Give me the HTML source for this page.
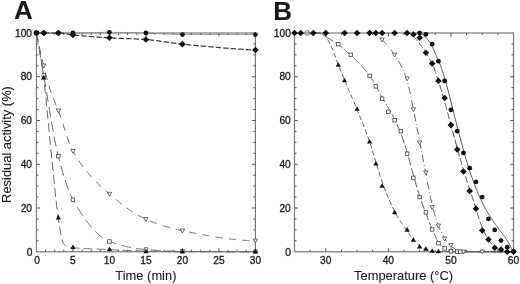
<!DOCTYPE html>
<html><head><meta charset="utf-8"><style>
html,body{margin:0;padding:0;background:#fff;}
body{width:520px;height:284px;overflow:hidden;}
svg{display:block;will-change:transform;}
text{font-family:"Liberation Sans",sans-serif;fill:#1a1a1a;stroke:#1a1a1a;stroke-width:0.3px;}
</style></head><body>
<svg width="520" height="284" viewBox="0 0 520 284">
<g style="filter:blur(0.25px)">
<rect x="36.45" y="33.0" width="218.95" height="218.75" fill="none" stroke="#7a7a7a" stroke-width="1.2"/>
<path d="M72.94,251.75v-3.5M72.94,33.0v3.5M109.43,251.75v-3.5M109.43,33.0v3.5M145.93,251.75v-3.5M145.93,33.0v3.5M182.42,251.75v-3.5M182.42,33.0v3.5M218.91,251.75v-3.5M218.91,33.0v3.5M45.57,251.75v-2M45.57,33.0v2M54.70,251.75v-2M54.70,33.0v2M63.82,251.75v-2M63.82,33.0v2M82.06,251.75v-2M82.06,33.0v2M91.19,251.75v-2M91.19,33.0v2M100.31,251.75v-2M100.31,33.0v2M118.56,251.75v-2M118.56,33.0v2M127.68,251.75v-2M127.68,33.0v2M136.80,251.75v-2M136.80,33.0v2M155.05,251.75v-2M155.05,33.0v2M164.17,251.75v-2M164.17,33.0v2M173.29,251.75v-2M173.29,33.0v2M191.54,251.75v-2M191.54,33.0v2M200.66,251.75v-2M200.66,33.0v2M209.79,251.75v-2M209.79,33.0v2M228.03,251.75v-2M228.03,33.0v2M237.15,251.75v-2M237.15,33.0v2M246.28,251.75v-2M246.28,33.0v2M36.45,208.00h3.5M255.4,208.00h-3.5M36.45,164.25h3.5M255.4,164.25h-3.5M36.45,120.50h3.5M255.4,120.50h-3.5M36.45,76.75h3.5M255.4,76.75h-3.5M36.45,240.81h2M255.4,240.81h-2M36.45,229.88h2M255.4,229.88h-2M36.45,218.94h2M255.4,218.94h-2M36.45,197.06h2M255.4,197.06h-2M36.45,186.12h2M255.4,186.12h-2M36.45,175.19h2M255.4,175.19h-2M36.45,153.31h2M255.4,153.31h-2M36.45,142.38h2M255.4,142.38h-2M36.45,131.44h2M255.4,131.44h-2M36.45,109.56h2M255.4,109.56h-2M36.45,98.62h2M255.4,98.62h-2M36.45,87.69h2M255.4,87.69h-2M36.45,65.81h2M255.4,65.81h-2M36.45,54.88h2M255.4,54.88h-2M36.45,43.94h2M255.4,43.94h-2" stroke="#555" stroke-width="1" fill="none"/>
<path d="M36.45,33.00L37.18,33.00L37.91,33.00L38.65,33.00L39.38,33.00L40.11,33.00L40.84,33.00L41.58,33.00L42.31,33.00L43.04,33.00L43.77,33.00L44.51,33.00L45.24,33.00L45.97,33.00L46.70,33.00L47.43,33.00L48.17,33.00L48.90,33.00L49.63,33.00L50.36,33.00L51.10,33.00L51.83,33.00L52.56,33.00L53.29,33.00L54.02,33.00L54.76,33.00L55.49,33.00L56.22,33.00L56.95,33.00L57.69,33.00L58.42,33.00L59.15,33.00L59.88,33.00L60.62,33.00L61.35,33.00L62.08,33.00L62.81,33.00L63.54,33.00L64.28,33.00L65.01,33.00L65.74,33.00L66.47,33.00L67.21,33.00L67.94,33.00L68.67,33.00L69.40,33.00L70.13,33.00L70.87,33.00L71.60,33.00L72.33,33.00L73.06,33.00L73.80,33.00L74.53,33.00L75.26,32.99L75.99,32.99L76.73,32.98L77.46,32.97L78.19,32.96L78.92,32.95L79.65,32.94L80.39,32.93L81.12,32.92L81.85,32.90L82.58,32.89L83.32,32.87L84.05,32.85L84.78,32.84L85.51,32.82L86.24,32.80L86.98,32.78L87.71,32.76L88.44,32.75L89.17,32.73L89.91,32.71L90.64,32.69L91.37,32.67L92.10,32.65L92.84,32.63L93.57,32.61L94.30,32.59L95.03,32.57L95.76,32.55L96.50,32.53L97.23,32.51L97.96,32.50L98.69,32.48L99.43,32.46L100.16,32.45L100.89,32.43L101.62,32.42L102.35,32.41L103.09,32.40L103.82,32.39L104.55,32.38L105.28,32.37L106.02,32.36L106.75,32.35L107.48,32.35L108.21,32.35L108.95,32.34L109.68,32.34L110.41,32.34L111.14,32.35L111.87,32.35L112.61,32.35L113.34,32.36L114.07,32.36L114.80,32.37L115.54,32.37L116.27,32.38L117.00,32.39L117.73,32.39L118.46,32.40L119.20,32.41L119.93,32.42L120.66,32.43L121.39,32.44L122.13,32.45L122.86,32.47L123.59,32.48L124.32,32.49L125.06,32.51L125.79,32.52L126.52,32.53L127.25,32.55L127.98,32.56L128.72,32.58L129.45,32.59L130.18,32.61L130.91,32.63L131.65,32.64L132.38,32.66L133.11,32.68L133.84,32.70L134.57,32.71L135.31,32.73L136.04,32.75L136.77,32.77L137.50,32.79L138.24,32.80L138.97,32.82L139.70,32.84L140.43,32.86L141.17,32.88L141.90,32.90L142.63,32.92L143.36,32.93L144.09,32.95L144.83,32.97L145.56,32.99L146.29,33.01L147.02,33.03L147.76,33.05L148.49,33.08L149.22,33.10L149.95,33.13L150.68,33.16L151.42,33.19L152.15,33.23L152.88,33.26L153.61,33.30L154.35,33.33L155.08,33.37L155.81,33.41L156.54,33.45L157.28,33.49L158.01,33.53L158.74,33.57L159.47,33.61L160.20,33.65L160.94,33.70L161.67,33.74L162.40,33.78L163.13,33.82L163.87,33.86L164.60,33.90L165.33,33.95L166.06,33.99L166.79,34.03L167.53,34.07L168.26,34.10L168.99,34.14L169.72,34.18L170.46,34.21L171.19,34.25L171.92,34.28L172.65,34.31L173.39,34.34L174.12,34.37L174.85,34.39L175.58,34.42L176.31,34.44L177.05,34.46L177.78,34.48L178.51,34.49L179.24,34.50L179.98,34.52L180.71,34.52L181.44,34.53L182.17,34.53L182.90,34.53L183.64,34.53L184.37,34.53L185.10,34.53L185.83,34.53L186.57,34.53L187.30,34.53L188.03,34.53L188.76,34.53L189.50,34.53L190.23,34.53L190.96,34.53L191.69,34.53L192.42,34.53L193.16,34.53L193.89,34.53L194.62,34.53L195.35,34.53L196.09,34.53L196.82,34.53L197.55,34.53L198.28,34.53L199.01,34.53L199.75,34.53L200.48,34.53L201.21,34.53L201.94,34.53L202.68,34.53L203.41,34.53L204.14,34.53L204.87,34.53L205.61,34.53L206.34,34.53L207.07,34.53L207.80,34.53L208.53,34.53L209.27,34.53L210.00,34.53L210.73,34.53L211.46,34.53L212.20,34.53L212.93,34.53L213.66,34.53L214.39,34.53L215.12,34.53L215.86,34.53L216.59,34.53L217.32,34.53L218.05,34.53L218.79,34.53L219.52,34.53L220.25,34.53L220.98,34.53L221.72,34.53L222.45,34.53L223.18,34.53L223.91,34.53L224.64,34.53L225.38,34.53L226.11,34.53L226.84,34.53L227.57,34.53L228.31,34.53L229.04,34.53L229.77,34.53L230.50,34.53L231.23,34.53L231.97,34.53L232.70,34.53L233.43,34.53L234.16,34.53L234.90,34.53L235.63,34.53L236.36,34.53L237.09,34.53L237.83,34.53L238.56,34.53L239.29,34.53L240.02,34.53L240.75,34.53L241.49,34.53L242.22,34.53L242.95,34.53L243.68,34.53L244.42,34.53L245.15,34.53L245.88,34.53L246.61,34.53L247.34,34.53L248.08,34.53L248.81,34.53L249.54,34.53L250.27,34.53L251.01,34.53L251.74,34.53L252.47,34.53L253.20,34.53L253.94,34.53L254.67,34.53L255.40,34.53" fill="none" stroke="#8a8a8a" stroke-width="1.0"/>
<path d="M36.45,33.00L37.18,33.00L37.91,33.00L38.65,33.00L39.38,33.00L40.11,33.00L40.84,33.00L41.58,33.00L42.31,33.00L43.04,33.00L43.77,33.00L44.51,33.00L45.24,33.00L45.97,33.00L46.70,33.00L47.43,33.00L48.17,33.00L48.90,33.00L49.63,33.00L50.36,33.00L51.10,33.00L51.83,33.00L52.56,33.00L53.29,33.00L54.02,33.00L54.76,33.00L55.49,33.00L56.22,33.00L56.95,33.00L57.69,33.00L58.42,33.00L59.15,33.01L59.88,33.05L60.62,33.10L61.35,33.17L62.08,33.25L62.81,33.34L63.54,33.45L64.28,33.56L65.01,33.69L65.74,33.81L66.47,33.95L67.21,34.08L67.94,34.21L68.67,34.34L69.40,34.47L70.13,34.59L70.87,34.70L71.60,34.81L72.33,34.90L73.06,34.98L73.80,35.06L74.53,35.13L75.26,35.20L75.99,35.27L76.73,35.35L77.46,35.42L78.19,35.49L78.92,35.55L79.65,35.62L80.39,35.69L81.12,35.75L81.85,35.82L82.58,35.88L83.32,35.95L84.05,36.01L84.78,36.07L85.51,36.13L86.24,36.20L86.98,36.26L87.71,36.32L88.44,36.37L89.17,36.43L89.91,36.49L90.64,36.55L91.37,36.60L92.10,36.66L92.84,36.71L93.57,36.77L94.30,36.82L95.03,36.87L95.76,36.93L96.50,36.98L97.23,37.03L97.96,37.08L98.69,37.13L99.43,37.18L100.16,37.23L100.89,37.28L101.62,37.33L102.35,37.37L103.09,37.42L103.82,37.47L104.55,37.51L105.28,37.56L106.02,37.61L106.75,37.65L107.48,37.70L108.21,37.74L108.95,37.78L109.68,37.83L110.41,37.87L111.14,37.91L111.87,37.95L112.61,37.99L113.34,38.03L114.07,38.06L114.80,38.10L115.54,38.14L116.27,38.17L117.00,38.20L117.73,38.24L118.46,38.27L119.20,38.30L119.93,38.33L120.66,38.36L121.39,38.39L122.13,38.42L122.86,38.45L123.59,38.48L124.32,38.51L125.06,38.54L125.79,38.57L126.52,38.60L127.25,38.62L127.98,38.65L128.72,38.68L129.45,38.71L130.18,38.74L130.91,38.77L131.65,38.80L132.38,38.83L133.11,38.87L133.84,38.90L134.57,38.93L135.31,38.96L136.04,39.00L136.77,39.03L137.50,39.07L138.24,39.11L138.97,39.14L139.70,39.18L140.43,39.22L141.17,39.26L141.90,39.31L142.63,39.35L143.36,39.39L144.09,39.44L144.83,39.49L145.56,39.54L146.29,39.59L147.02,39.64L147.76,39.70L148.49,39.76L149.22,39.83L149.95,39.90L150.68,39.97L151.42,40.05L152.15,40.13L152.88,40.21L153.61,40.29L154.35,40.38L155.08,40.47L155.81,40.56L156.54,40.65L157.28,40.75L158.01,40.85L158.74,40.94L159.47,41.04L160.20,41.15L160.94,41.25L161.67,41.35L162.40,41.46L163.13,41.56L163.87,41.67L164.60,41.78L165.33,41.89L166.06,41.99L166.79,42.10L167.53,42.21L168.26,42.32L168.99,42.42L169.72,42.53L170.46,42.64L171.19,42.74L171.92,42.85L172.65,42.95L173.39,43.05L174.12,43.15L174.85,43.25L175.58,43.35L176.31,43.45L177.05,43.54L177.78,43.63L178.51,43.72L179.24,43.81L179.98,43.89L180.71,43.98L181.44,44.05L182.17,44.13L182.90,44.21L183.64,44.28L184.37,44.35L185.10,44.43L185.83,44.50L186.57,44.57L187.30,44.65L188.03,44.72L188.76,44.79L189.50,44.86L190.23,44.94L190.96,45.01L191.69,45.08L192.42,45.15L193.16,45.22L193.89,45.29L194.62,45.36L195.35,45.44L196.09,45.51L196.82,45.58L197.55,45.65L198.28,45.72L199.01,45.79L199.75,45.85L200.48,45.92L201.21,45.99L201.94,46.06L202.68,46.13L203.41,46.20L204.14,46.27L204.87,46.33L205.61,46.40L206.34,46.47L207.07,46.53L207.80,46.60L208.53,46.67L209.27,46.73L210.00,46.80L210.73,46.86L211.46,46.93L212.20,46.99L212.93,47.05L213.66,47.12L214.39,47.18L215.12,47.25L215.86,47.31L216.59,47.37L217.32,47.43L218.05,47.49L218.79,47.56L219.52,47.62L220.25,47.68L220.98,47.74L221.72,47.80L222.45,47.86L223.18,47.92L223.91,47.97L224.64,48.03L225.38,48.09L226.11,48.15L226.84,48.20L227.57,48.26L228.31,48.32L229.04,48.37L229.77,48.43L230.50,48.48L231.23,48.54L231.97,48.59L232.70,48.65L233.43,48.70L234.16,48.75L234.90,48.80L235.63,48.86L236.36,48.91L237.09,48.96L237.83,49.01L238.56,49.06L239.29,49.11L240.02,49.16L240.75,49.20L241.49,49.25L242.22,49.30L242.95,49.35L243.68,49.39L244.42,49.44L245.15,49.48L245.88,49.53L246.61,49.57L247.34,49.62L248.08,49.66L248.81,49.70L249.54,49.75L250.27,49.79L251.01,49.83L251.74,49.87L252.47,49.91L253.20,49.95L253.94,49.99L254.67,50.02L255.40,50.06" fill="none" stroke="#3a3a3a" stroke-width="1.2" stroke-dasharray="5.5,2"/>
<path d="M36.45,33.00L37.18,36.57L37.91,40.09L38.65,43.54L39.38,46.94L40.11,50.27L40.84,53.53L41.58,56.73L42.31,59.86L43.04,62.92L43.77,65.91L44.51,68.86L45.24,71.78L45.97,74.67L46.70,77.50L47.43,80.27L48.17,82.96L48.90,85.56L49.63,88.05L50.36,90.41L51.10,92.64L51.83,94.73L52.56,96.69L53.29,98.54L54.02,100.32L54.76,102.04L55.49,103.75L56.22,105.45L56.95,107.19L57.69,108.98L58.42,110.85L59.15,112.81L59.88,114.86L60.62,116.99L61.35,119.17L62.08,121.39L62.81,123.65L63.54,125.93L64.28,128.21L65.01,130.49L65.74,132.75L66.47,134.97L67.21,137.15L67.94,139.27L68.67,141.32L69.40,143.28L70.13,145.14L70.87,146.89L71.60,148.51L72.33,150.00L73.06,151.34L73.80,152.60L74.53,153.85L75.26,155.06L75.99,156.26L76.73,157.43L77.46,158.58L78.19,159.71L78.92,160.81L79.65,161.90L80.39,162.96L81.12,164.01L81.85,165.03L82.58,166.04L83.32,167.02L84.05,167.99L84.78,168.94L85.51,169.88L86.24,170.80L86.98,171.70L87.71,172.58L88.44,173.45L89.17,174.31L89.91,175.15L90.64,175.98L91.37,176.79L92.10,177.59L92.84,178.38L93.57,179.16L94.30,179.92L95.03,180.68L95.76,181.42L96.50,182.16L97.23,182.88L97.96,183.60L98.69,184.30L99.43,185.00L100.16,185.70L100.89,186.38L101.62,187.06L102.35,187.73L103.09,188.39L103.82,189.06L104.55,189.71L105.28,190.36L106.02,191.01L106.75,191.66L107.48,192.30L108.21,192.94L108.95,193.58L109.68,194.21L110.41,194.85L111.14,195.48L111.87,196.10L112.61,196.73L113.34,197.35L114.07,197.96L114.80,198.57L115.54,199.18L116.27,199.79L117.00,200.39L117.73,200.98L118.46,201.57L119.20,202.16L119.93,202.74L120.66,203.32L121.39,203.89L122.13,204.45L122.86,205.01L123.59,205.57L124.32,206.12L125.06,206.66L125.79,207.20L126.52,207.73L127.25,208.25L127.98,208.77L128.72,209.29L129.45,209.79L130.18,210.29L130.91,210.78L131.65,211.27L132.38,211.75L133.11,212.22L133.84,212.68L134.57,213.14L135.31,213.59L136.04,214.03L136.77,214.46L137.50,214.89L138.24,215.30L138.97,215.71L139.70,216.11L140.43,216.50L141.17,216.89L141.90,217.26L142.63,217.63L143.36,217.98L144.09,218.33L144.83,218.67L145.56,219.00L146.29,219.32L147.02,219.63L147.76,219.94L148.49,220.25L149.22,220.55L149.95,220.86L150.68,221.15L151.42,221.45L152.15,221.74L152.88,222.03L153.61,222.31L154.35,222.59L155.08,222.87L155.81,223.14L156.54,223.41L157.28,223.68L158.01,223.94L158.74,224.20L159.47,224.46L160.20,224.71L160.94,224.96L161.67,225.21L162.40,225.45L163.13,225.69L163.87,225.92L164.60,226.15L165.33,226.38L166.06,226.61L166.79,226.83L167.53,227.05L168.26,227.26L168.99,227.48L169.72,227.68L170.46,227.89L171.19,228.09L171.92,228.29L172.65,228.48L173.39,228.67L174.12,228.86L174.85,229.05L175.58,229.23L176.31,229.40L177.05,229.58L177.78,229.75L178.51,229.92L179.24,230.08L179.98,230.24L180.71,230.40L181.44,230.55L182.17,230.70L182.90,230.85L183.64,231.00L184.37,231.14L185.10,231.29L185.83,231.44L186.57,231.58L187.30,231.73L188.03,231.87L188.76,232.02L189.50,232.17L190.23,232.31L190.96,232.45L191.69,232.60L192.42,232.74L193.16,232.89L193.89,233.03L194.62,233.17L195.35,233.31L196.09,233.46L196.82,233.60L197.55,233.74L198.28,233.88L199.01,234.01L199.75,234.15L200.48,234.29L201.21,234.43L201.94,234.56L202.68,234.70L203.41,234.83L204.14,234.97L204.87,235.10L205.61,235.23L206.34,235.36L207.07,235.49L207.80,235.62L208.53,235.75L209.27,235.88L210.00,236.01L210.73,236.13L211.46,236.25L212.20,236.38L212.93,236.50L213.66,236.62L214.39,236.74L215.12,236.86L215.86,236.98L216.59,237.09L217.32,237.21L218.05,237.32L218.79,237.43L219.52,237.54L220.25,237.65L220.98,237.76L221.72,237.87L222.45,237.97L223.18,238.08L223.91,238.18L224.64,238.28L225.38,238.38L226.11,238.48L226.84,238.57L227.57,238.67L228.31,238.76L229.04,238.85L229.77,238.94L230.50,239.03L231.23,239.12L231.97,239.20L232.70,239.28L233.43,239.36L234.16,239.44L234.90,239.52L235.63,239.59L236.36,239.67L237.09,239.74L237.83,239.81L238.56,239.87L239.29,239.94L240.02,240.00L240.75,240.06L241.49,240.12L242.22,240.18L242.95,240.23L243.68,240.29L244.42,240.34L245.15,240.39L245.88,240.43L246.61,240.47L247.34,240.52L248.08,240.56L248.81,240.59L249.54,240.63L250.27,240.66L251.01,240.69L251.74,240.71L252.47,240.74L253.20,240.76L253.94,240.78L254.67,240.80L255.40,240.81" fill="none" stroke="#666" stroke-width="1.0" stroke-dasharray="7.5,6"/>
<path d="M36.45,33.00L37.18,37.32L37.91,41.64L38.65,45.94L39.38,50.22L40.11,54.50L40.84,58.75L41.58,62.99L42.31,67.21L43.04,71.40L43.77,75.58L44.51,79.79L45.24,84.08L45.97,88.44L46.70,92.85L47.43,97.29L48.17,101.74L48.90,106.20L49.63,110.63L50.36,115.04L51.10,119.39L51.83,123.67L52.56,127.87L53.29,131.97L54.02,135.95L54.76,139.79L55.49,143.49L56.22,147.02L56.95,150.37L57.69,153.51L58.42,156.44L59.15,159.25L59.88,162.02L60.62,164.73L61.35,167.40L62.08,170.00L62.81,172.55L63.54,175.03L64.28,177.45L65.01,179.80L65.74,182.07L66.47,184.26L67.21,186.37L67.94,188.40L68.67,190.34L69.40,192.18L70.13,193.93L70.87,195.58L71.60,197.13L72.33,198.57L73.06,199.90L73.80,201.19L74.53,202.46L75.26,203.71L75.99,204.96L76.73,206.18L77.46,207.39L78.19,208.59L78.92,209.77L79.65,210.93L80.39,212.08L81.12,213.21L81.85,214.33L82.58,215.42L83.32,216.50L84.05,217.57L84.78,218.61L85.51,219.64L86.24,220.64L86.98,221.63L87.71,222.60L88.44,223.55L89.17,224.48L89.91,225.40L90.64,226.29L91.37,227.16L92.10,228.01L92.84,228.84L93.57,229.65L94.30,230.44L95.03,231.20L95.76,231.95L96.50,232.67L97.23,233.37L97.96,234.04L98.69,234.70L99.43,235.33L100.16,235.93L100.89,236.52L101.62,237.07L102.35,237.61L103.09,238.12L103.82,238.60L104.55,239.06L105.28,239.50L106.02,239.91L106.75,240.29L107.48,240.65L108.21,240.98L108.95,241.28L109.68,241.56L110.41,241.83L111.14,242.09L111.87,242.35L112.61,242.60L113.34,242.85L114.07,243.10L114.80,243.34L115.54,243.58L116.27,243.81L117.00,244.04L117.73,244.26L118.46,244.48L119.20,244.69L119.93,244.90L120.66,245.11L121.39,245.31L122.13,245.50L122.86,245.70L123.59,245.88L124.32,246.07L125.06,246.25L125.79,246.42L126.52,246.59L127.25,246.76L127.98,246.92L128.72,247.07L129.45,247.23L130.18,247.38L130.91,247.52L131.65,247.66L132.38,247.80L133.11,247.93L133.84,248.06L134.57,248.18L135.31,248.30L136.04,248.41L136.77,248.52L137.50,248.63L138.24,248.73L138.97,248.83L139.70,248.93L140.43,249.02L141.17,249.10L141.90,249.18L142.63,249.26L143.36,249.34L144.09,249.41L144.83,249.47L145.56,249.53L146.29,249.59L147.02,249.65L147.76,249.70L148.49,249.76L149.22,249.81L149.95,249.87L150.68,249.92L151.42,249.97L152.15,250.03L152.88,250.08L153.61,250.13L154.35,250.17L155.08,250.22L155.81,250.27L156.54,250.32L157.28,250.36L158.01,250.41L158.74,250.45L159.47,250.49L160.20,250.53L160.94,250.58L161.67,250.61L162.40,250.65L163.13,250.69L163.87,250.73L164.60,250.76L165.33,250.80L166.06,250.83L166.79,250.87L167.53,250.90L168.26,250.93L168.99,250.96L169.72,250.99L170.46,251.02L171.19,251.04L171.92,251.07L172.65,251.09L173.39,251.12L174.12,251.14L174.85,251.16L175.58,251.18L176.31,251.20L177.05,251.22L177.78,251.23L178.51,251.25L179.24,251.26L179.98,251.28L180.71,251.29L181.44,251.30L182.17,251.31L182.90,251.32L183.64,251.33L184.37,251.33L185.10,251.34L185.83,251.35L186.57,251.36L187.30,251.37L188.03,251.38L188.76,251.38L189.50,251.39L190.23,251.40L190.96,251.41L191.69,251.41L192.42,251.42L193.16,251.43L193.89,251.44L194.62,251.44L195.35,251.45L196.09,251.46L196.82,251.47L197.55,251.47L198.28,251.48L199.01,251.49L199.75,251.49L200.48,251.50L201.21,251.51L201.94,251.51L202.68,251.52L203.41,251.52L204.14,251.53L204.87,251.54L205.61,251.54L206.34,251.55L207.07,251.55L207.80,251.56L208.53,251.57L209.27,251.57L210.00,251.58L210.73,251.58L211.46,251.59L212.20,251.59L212.93,251.60L213.66,251.60L214.39,251.61L215.12,251.61L215.86,251.62L216.59,251.62L217.32,251.63L218.05,251.63L218.79,251.64L219.52,251.64L220.25,251.65L220.98,251.65L221.72,251.65L222.45,251.66L223.18,251.66L223.91,251.67L224.64,251.67L225.38,251.67L226.11,251.68L226.84,251.68L227.57,251.68L228.31,251.69L229.04,251.69L229.77,251.69L230.50,251.70L231.23,251.70L231.97,251.70L232.70,251.71L233.43,251.71L234.16,251.71L234.90,251.71L235.63,251.72L236.36,251.72L237.09,251.72L237.83,251.72L238.56,251.73L239.29,251.73L240.02,251.73L240.75,251.73L241.49,251.73L242.22,251.74L242.95,251.74L243.68,251.74L244.42,251.74L245.15,251.74L245.88,251.74L246.61,251.74L247.34,251.74L248.08,251.75L248.81,251.75L249.54,251.75L250.27,251.75L251.01,251.75L251.74,251.75L252.47,251.75L253.20,251.75L253.94,251.75L254.67,251.75L255.40,251.75" fill="none" stroke="#666" stroke-width="1.0" stroke-dasharray="10,5"/>
<path d="M36.45,33.00L37.18,36.45L37.91,40.21L38.65,44.25L39.38,48.56L40.11,53.13L40.84,57.93L41.58,62.95L42.31,68.16L43.04,73.56L43.77,79.13L44.51,85.11L45.24,91.68L45.97,98.71L46.70,106.10L47.43,113.74L48.17,121.50L48.90,129.28L49.63,136.96L50.36,144.44L51.10,151.59L51.83,158.71L52.56,166.00L53.29,173.36L54.02,180.70L54.76,187.92L55.49,194.92L56.22,201.60L56.95,207.87L57.69,213.62L58.42,218.77L59.15,223.73L59.88,228.62L60.62,233.18L61.35,237.12L62.08,240.17L62.81,242.07L63.54,243.36L64.28,244.48L65.01,245.42L65.74,246.16L66.47,246.68L67.21,246.97L67.94,247.15L68.67,247.30L69.40,247.42L70.13,247.53L70.87,247.62L71.60,247.69L72.33,247.76L73.06,247.82L73.80,247.88L74.53,247.94L75.26,248.00L75.99,248.05L76.73,248.10L77.46,248.15L78.19,248.20L78.92,248.25L79.65,248.29L80.39,248.34L81.12,248.38L81.85,248.42L82.58,248.46L83.32,248.50L84.05,248.54L84.78,248.58L85.51,248.61L86.24,248.65L86.98,248.68L87.71,248.72L88.44,248.75L89.17,248.78L89.91,248.81L90.64,248.84L91.37,248.87L92.10,248.90L92.84,248.93L93.57,248.95L94.30,248.98L95.03,249.01L95.76,249.04L96.50,249.06L97.23,249.09L97.96,249.12L98.69,249.14L99.43,249.17L100.16,249.20L100.89,249.22L101.62,249.25L102.35,249.28L103.09,249.30L103.82,249.33L104.55,249.36L105.28,249.39L106.02,249.42L106.75,249.45L107.48,249.48L108.21,249.51L108.95,249.54L109.68,249.57L110.41,249.61L111.14,249.64L111.87,249.67L112.61,249.71L113.34,249.74L114.07,249.78L114.80,249.81L115.54,249.84L116.27,249.88L117.00,249.91L117.73,249.95L118.46,249.98L119.20,250.02L119.93,250.05L120.66,250.09L121.39,250.12L122.13,250.16L122.86,250.19L123.59,250.23L124.32,250.26L125.06,250.30L125.79,250.33L126.52,250.36L127.25,250.40L127.98,250.43L128.72,250.46L129.45,250.50L130.18,250.53L130.91,250.56L131.65,250.59L132.38,250.62L133.11,250.65L133.84,250.68L134.57,250.71L135.31,250.74L136.04,250.77L136.77,250.80L137.50,250.83L138.24,250.86L138.97,250.88L139.70,250.91L140.43,250.93L141.17,250.96L141.90,250.98L142.63,251.00L143.36,251.02L144.09,251.04L144.83,251.07L145.56,251.08L146.29,251.10L147.02,251.12L147.76,251.14L148.49,251.16L149.22,251.18L149.95,251.20L150.68,251.21L151.42,251.23L152.15,251.25L152.88,251.27L153.61,251.29L154.35,251.31L155.08,251.33L155.81,251.34L156.54,251.36L157.28,251.38L158.01,251.40L158.74,251.42L159.47,251.43L160.20,251.45L160.94,251.47L161.67,251.48L162.40,251.50L163.13,251.51L163.87,251.53L164.60,251.55L165.33,251.56L166.06,251.57L166.79,251.59L167.53,251.60L168.26,251.61L168.99,251.63L169.72,251.64L170.46,251.65L171.19,251.66L171.92,251.67L172.65,251.68L173.39,251.69L174.12,251.70L174.85,251.71L175.58,251.72L176.31,251.72L177.05,251.73L177.78,251.73L178.51,251.74L179.24,251.74L179.98,251.75L180.71,251.75L181.44,251.75L182.17,251.75L182.90,251.75L183.64,251.75L184.37,251.75L185.10,251.75L185.83,251.75L186.57,251.75L187.30,251.75L188.03,251.75L188.76,251.75L189.50,251.75L190.23,251.75L190.96,251.75L191.69,251.75L192.42,251.75L193.16,251.75L193.89,251.75L194.62,251.75L195.35,251.75L196.09,251.75L196.82,251.75L197.55,251.75L198.28,251.75L199.01,251.75L199.75,251.75L200.48,251.75L201.21,251.75L201.94,251.75L202.68,251.75L203.41,251.75L204.14,251.75L204.87,251.75L205.61,251.75L206.34,251.75L207.07,251.75L207.80,251.75L208.53,251.75L209.27,251.75L210.00,251.75L210.73,251.75L211.46,251.75L212.20,251.75L212.93,251.75L213.66,251.75L214.39,251.75L215.12,251.75L215.86,251.75L216.59,251.75L217.32,251.75L218.05,251.75L218.79,251.75L219.52,251.75L220.25,251.75L220.98,251.75L221.72,251.75L222.45,251.75L223.18,251.75L223.91,251.75L224.64,251.75L225.38,251.75L226.11,251.75L226.84,251.75L227.57,251.75L228.31,251.75L229.04,251.75L229.77,251.75L230.50,251.75L231.23,251.75L231.97,251.75L232.70,251.75L233.43,251.75L234.16,251.75L234.90,251.75L235.63,251.75L236.36,251.75L237.09,251.75L237.83,251.75L238.56,251.75L239.29,251.75L240.02,251.75L240.75,251.75L241.49,251.75L242.22,251.75L242.95,251.75L243.68,251.75L244.42,251.75L245.15,251.75L245.88,251.75L246.61,251.75L247.34,251.75L248.08,251.75L248.81,251.75L249.54,251.75L250.27,251.75L251.01,251.75L251.74,251.75L252.47,251.75L253.20,251.75L253.94,251.75L254.67,251.75L255.40,251.75" fill="none" stroke="#666" stroke-width="1.0" stroke-dasharray="9,4"/>
<path d="M36.45,35.15L38.60,31.28L34.30,31.28Z" fill="#fff" stroke="#444" stroke-width="0.8"/>
<path d="M43.75,67.96L45.90,64.09L41.60,64.09Z" fill="#fff" stroke="#444" stroke-width="0.8"/>
<path d="M58.34,112.81L60.49,108.94L56.20,108.94Z" fill="#fff" stroke="#444" stroke-width="0.8"/>
<path d="M72.94,153.28L75.09,149.41L70.79,149.41Z" fill="#fff" stroke="#444" stroke-width="0.8"/>
<path d="M109.43,196.15L111.58,192.28L107.28,192.28Z" fill="#fff" stroke="#444" stroke-width="0.8"/>
<path d="M145.93,221.31L148.08,217.44L143.78,217.44Z" fill="#fff" stroke="#444" stroke-width="0.8"/>
<path d="M182.42,232.90L184.57,229.03L180.27,229.03Z" fill="#fff" stroke="#444" stroke-width="0.8"/>
<path d="M255.40,242.96L257.55,239.09L253.25,239.09Z" fill="#fff" stroke="#444" stroke-width="0.8"/>
<rect x="34.70" y="31.25" width="3.50" height="3.50" fill="#fff" stroke="#444" stroke-width="0.8"/>
<rect x="42.00" y="73.69" width="3.50" height="3.50" fill="#fff" stroke="#444" stroke-width="0.8"/>
<rect x="56.59" y="154.41" width="3.50" height="3.50" fill="#fff" stroke="#444" stroke-width="0.8"/>
<rect x="71.19" y="197.94" width="3.50" height="3.50" fill="#fff" stroke="#444" stroke-width="0.8"/>
<rect x="107.68" y="239.72" width="3.50" height="3.50" fill="#fff" stroke="#444" stroke-width="0.8"/>
<rect x="144.18" y="247.81" width="3.50" height="3.50" fill="#fff" stroke="#444" stroke-width="0.8"/>
<rect x="180.67" y="249.56" width="3.50" height="3.50" fill="#fff" stroke="#444" stroke-width="0.8"/>
<rect x="253.65" y="250.00" width="3.50" height="3.50" fill="#fff" stroke="#444" stroke-width="0.8"/>
<path d="M36.45,30.01L39.05,34.56L33.85,34.56Z" fill="#111"/>
<path d="M43.75,74.85L46.35,79.40L41.15,79.40Z" fill="#111"/>
<path d="M58.34,214.85L60.95,219.40L55.74,219.40Z" fill="#111"/>
<path d="M72.94,244.38L75.54,248.94L70.34,248.94Z" fill="#111"/>
<path d="M109.43,246.57L112.03,251.12L106.83,251.12Z" fill="#111"/>
<path d="M145.93,248.76L148.53,253.31L143.33,253.31Z" fill="#111"/>
<path d="M182.42,248.76L185.02,253.31L179.82,253.31Z" fill="#111"/>
<path d="M255.40,248.76L258.00,253.31L252.80,253.31Z" fill="#111"/>
<circle cx="36.45" cy="33.00" r="2.40" fill="#111"/>
<circle cx="43.75" cy="33.00" r="2.40" fill="#111"/>
<circle cx="58.34" cy="33.00" r="2.40" fill="#111"/>
<circle cx="72.94" cy="33.00" r="2.40" fill="#111"/>
<circle cx="109.43" cy="32.34" r="2.40" fill="#111"/>
<circle cx="145.93" cy="33.00" r="2.40" fill="#111"/>
<circle cx="182.42" cy="34.53" r="2.40" fill="#111"/>
<circle cx="255.40" cy="34.53" r="2.40" fill="#111"/>
<path d="M36.45,29.70L39.75,33.00L36.45,36.30L33.15,33.00Z" fill="#111"/>
<path d="M43.75,29.70L47.05,33.00L43.75,36.30L40.45,33.00Z" fill="#111"/>
<path d="M58.34,29.70L61.64,33.00L58.34,36.30L55.05,33.00Z" fill="#111"/>
<path d="M72.94,31.67L76.24,34.97L72.94,38.27L69.64,34.97Z" fill="#111"/>
<path d="M109.43,34.51L112.73,37.81L109.43,41.11L106.13,37.81Z" fill="#111"/>
<path d="M145.93,36.26L149.23,39.56L145.93,42.86L142.62,39.56Z" fill="#111"/>
<path d="M182.42,40.86L185.72,44.16L182.42,47.46L179.12,44.16Z" fill="#111"/>
<path d="M255.40,46.76L258.70,50.06L255.40,53.36L252.10,50.06Z" fill="#111"/>
<rect x="294.5" y="33.0" width="219.0" height="218.75" fill="none" stroke="#7a7a7a" stroke-width="1.2"/>
<path d="M325.79,251.75v-3.5M325.79,33.0v3.5M388.36,251.75v-3.5M388.36,33.0v3.5M450.93,251.75v-3.5M450.93,33.0v3.5M310.14,251.75v-2M310.14,33.0v2M341.43,251.75v-2M341.43,33.0v2M357.07,251.75v-2M357.07,33.0v2M372.71,251.75v-2M372.71,33.0v2M404.00,251.75v-2M404.00,33.0v2M419.64,251.75v-2M419.64,33.0v2M435.29,251.75v-2M435.29,33.0v2M466.57,251.75v-2M466.57,33.0v2M482.21,251.75v-2M482.21,33.0v2M497.86,251.75v-2M497.86,33.0v2M294.5,208.00h3.5M513.5,208.00h-3.5M294.5,164.25h3.5M513.5,164.25h-3.5M294.5,120.50h3.5M513.5,120.50h-3.5M294.5,76.75h3.5M513.5,76.75h-3.5M294.5,240.81h2M513.5,240.81h-2M294.5,229.88h2M513.5,229.88h-2M294.5,218.94h2M513.5,218.94h-2M294.5,197.06h2M513.5,197.06h-2M294.5,186.12h2M513.5,186.12h-2M294.5,175.19h2M513.5,175.19h-2M294.5,153.31h2M513.5,153.31h-2M294.5,142.38h2M513.5,142.38h-2M294.5,131.44h2M513.5,131.44h-2M294.5,109.56h2M513.5,109.56h-2M294.5,98.62h2M513.5,98.62h-2M294.5,87.69h2M513.5,87.69h-2M294.5,65.81h2M513.5,65.81h-2M294.5,54.88h2M513.5,54.88h-2M294.5,43.94h2M513.5,43.94h-2" stroke="#555" stroke-width="1" fill="none"/>
<path d="M315.15,33.00L315.65,33.00L316.14,33.00L316.64,33.00L317.14,33.00L317.63,33.00L318.13,33.00L318.63,33.00L319.13,33.00L319.62,33.00L320.12,33.05L320.62,33.17L321.11,33.35L321.61,33.59L322.11,33.87L322.61,34.20L323.10,34.57L323.60,34.97L324.10,35.39L324.59,35.83L325.09,36.29L325.59,36.75L326.09,37.24L326.58,37.82L327.08,38.50L327.58,39.27L328.07,40.12L328.57,41.03L329.07,41.99L329.57,43.00L330.06,44.04L330.56,45.10L331.06,46.18L331.55,47.26L332.05,48.33L332.55,49.43L333.04,50.59L333.54,51.81L334.04,53.08L334.54,54.39L335.03,55.72L335.53,57.07L336.03,58.43L336.52,59.79L337.02,61.14L337.52,62.47L338.02,63.77L338.51,65.04L339.01,66.30L339.51,67.55L340.00,68.80L340.50,70.04L341.00,71.28L341.50,72.52L341.99,73.75L342.49,74.98L342.99,76.20L343.48,77.42L343.98,78.63L344.48,79.84L344.98,81.04L345.47,82.24L345.97,83.43L346.47,84.60L346.96,85.78L347.46,86.95L347.96,88.11L348.46,89.27L348.95,90.43L349.45,91.58L349.95,92.73L350.44,93.89L350.94,95.04L351.44,96.19L351.94,97.35L352.43,98.50L352.93,99.66L353.43,100.83L353.92,102.00L354.42,103.17L354.92,104.35L355.42,105.54L355.91,106.74L356.41,107.94L356.91,109.16L357.40,110.38L357.90,111.60L358.40,112.81L358.90,114.03L359.39,115.24L359.89,116.45L360.39,117.67L360.88,118.88L361.38,120.10L361.88,121.33L362.38,122.56L362.87,123.80L363.37,125.04L363.87,126.30L364.36,127.56L364.86,128.84L365.36,130.12L365.85,131.42L366.35,132.74L366.85,134.07L367.35,135.42L367.84,136.78L368.34,138.16L368.84,139.57L369.33,140.99L369.83,142.44L370.33,143.94L370.83,145.49L371.32,147.08L371.82,148.70L372.32,150.34L372.81,152.00L373.31,153.67L373.81,155.35L374.31,157.01L374.80,158.67L375.30,160.31L375.80,161.92L376.29,163.52L376.79,165.13L377.29,166.76L377.79,168.39L378.28,170.02L378.78,171.64L379.28,173.25L379.77,174.83L380.27,176.39L380.77,177.91L381.27,179.38L381.76,180.81L382.26,182.19L382.76,183.54L383.25,184.88L383.75,186.21L384.25,187.53L384.75,188.83L385.24,190.12L385.74,191.39L386.24,192.65L386.73,193.89L387.23,195.12L387.73,196.34L388.23,197.53L388.72,198.72L389.22,199.88L389.72,201.02L390.21,202.15L390.71,203.26L391.21,204.35L391.71,205.42L392.20,206.47L392.70,207.51L393.20,208.52L393.69,209.51L394.19,210.47L394.69,211.42L395.19,212.35L395.68,213.25L396.18,214.14L396.68,215.01L397.17,215.87L397.67,216.71L398.17,217.53L398.66,218.35L399.16,219.15L399.66,219.93L400.16,220.71L400.65,221.48L401.15,222.24L401.65,222.99L402.14,223.73L402.64,224.46L403.14,225.19L403.64,225.92L404.13,226.64L404.63,227.36L405.13,228.08L405.62,228.80L406.12,229.51L406.62,230.23L407.12,230.95L407.61,231.67L408.11,232.39L408.61,233.11L409.10,233.82L409.60,234.52L410.10,235.22L410.60,235.91L411.09,236.58L411.59,237.25L412.09,237.89L412.58,238.52L413.08,239.14L413.58,239.73L414.08,240.32L414.57,240.91L415.07,241.50L415.57,242.07L416.06,242.64L416.56,243.19L417.06,243.72L417.56,244.23L418.05,244.72L418.55,245.18L419.05,245.60L419.54,245.99L420.04,246.35L420.54,246.70L421.04,247.04L421.53,247.36L422.03,247.68L422.53,247.98L423.02,248.26L423.52,248.53L424.02,248.78L424.52,249.01L425.01,249.23L425.51,249.42L426.01,249.60L426.50,249.76L427.00,249.92L427.50,250.07L428.00,250.21L428.49,250.34L428.99,250.47L429.49,250.59L429.98,250.70L430.48,250.80L430.98,250.90L431.47,250.99L431.97,251.07L432.47,251.14L432.97,251.21L433.46,251.29L433.96,251.36L434.46,251.43L434.95,251.50L435.45,251.56L435.95,251.61L436.45,251.66L436.94,251.70L437.44,251.73L437.94,251.74L438.43,251.75L438.93,251.75L439.43,251.75L439.93,251.75L440.42,251.75L440.92,251.75L441.42,251.75L441.91,251.75L442.41,251.75L442.91,251.75L443.41,251.75L443.90,251.75L444.40,251.75L444.90,251.75L445.39,251.75L445.89,251.75L446.39,251.75L446.89,251.75L447.38,251.75L447.88,251.75L448.38,251.75L448.87,251.75L449.37,251.75L449.87,251.75L450.37,251.75L450.86,251.75L451.36,251.75L451.86,251.75L452.35,251.75L452.85,251.75L453.35,251.75L453.85,251.75L454.34,251.75L454.84,251.75L455.34,251.75L455.83,251.75L456.33,251.75L456.83,251.75L457.33,251.75L457.82,251.75L458.32,251.75L458.82,251.75L459.31,251.75L459.81,251.75L460.31,251.75L460.81,251.75L461.30,251.75L461.80,251.75L462.30,251.75L462.79,251.75L463.29,251.75L463.79,251.75L464.28,251.75L464.78,251.75L465.28,251.75L465.78,251.75L466.27,251.75L466.77,251.75L467.27,251.75L467.76,251.75L468.26,251.75L468.76,251.75L469.26,251.75L469.75,251.75L470.25,251.75L470.75,251.75L471.24,251.75L471.74,251.75L472.24,251.75L472.74,251.75L473.23,251.75L473.73,251.75L474.23,251.75L474.72,251.75L475.22,251.75L475.72,251.75L476.22,251.75L476.71,251.75L477.21,251.75L477.71,251.75L478.20,251.75L478.70,251.75L479.20,251.75L479.70,251.75L480.19,251.75L480.69,251.75L481.19,251.75L481.68,251.75L482.18,251.75L482.68,251.75L483.18,251.75L483.67,251.75L484.17,251.75L484.67,251.75L485.16,251.75L485.66,251.75L486.16,251.75L486.66,251.75L487.15,251.75L487.65,251.75L488.15,251.75L488.64,251.75L489.14,251.75L489.64,251.75L490.14,251.75L490.63,251.75L491.13,251.75L491.63,251.75L492.12,251.75L492.62,251.75L493.12,251.75L493.62,251.75L494.11,251.75L494.61,251.75L495.11,251.75L495.60,251.75L496.10,251.75L496.60,251.75L497.09,251.75L497.59,251.75L498.09,251.75L498.59,251.75L499.08,251.75L499.58,251.75L500.08,251.75L500.57,251.75L501.07,251.75L501.57,251.75L502.07,251.75L502.56,251.75L503.06,251.75L503.56,251.75L504.05,251.75L504.55,251.75L505.05,251.75L505.55,251.75L506.04,251.75L506.54,251.75L507.04,251.75L507.53,251.75L508.03,251.75L508.53,251.75L509.03,251.75L509.52,251.75L510.02,251.75L510.52,251.75L511.01,251.75L511.51,251.75L512.01,251.75L512.51,251.75L513.00,251.75L513.50,251.75" fill="none" stroke="#555" stroke-width="1.0" stroke-dasharray="5,2.5"/>
<path d="M315.15,33.00L315.65,33.00L316.14,33.00L316.64,33.00L317.14,33.00L317.63,33.00L318.13,33.00L318.63,33.00L319.13,33.00L319.62,33.00L320.12,33.06L320.62,33.20L321.11,33.41L321.61,33.68L322.11,33.99L322.61,34.34L323.10,34.71L323.60,35.10L324.10,35.50L324.59,35.88L325.09,36.25L325.59,36.59L326.09,36.90L326.58,37.21L327.08,37.51L327.58,37.82L328.07,38.12L328.57,38.43L329.07,38.73L329.57,39.04L330.06,39.35L330.56,39.66L331.06,39.97L331.55,40.28L332.05,40.59L332.55,40.91L333.04,41.23L333.54,41.55L334.04,41.87L334.54,42.20L335.03,42.53L335.53,42.87L336.03,43.21L336.52,43.55L337.02,43.90L337.52,44.25L338.02,44.61L338.51,44.97L339.01,45.34L339.51,45.71L340.00,46.08L340.50,46.47L341.00,46.85L341.50,47.24L341.99,47.64L342.49,48.03L342.99,48.44L343.48,48.85L343.98,49.26L344.48,49.67L344.98,50.09L345.47,50.52L345.97,50.94L346.47,51.38L346.96,51.81L347.46,52.25L347.96,52.69L348.46,53.14L348.95,53.59L349.45,54.05L349.95,54.50L350.44,54.97L350.94,55.43L351.44,55.90L351.94,56.37L352.43,56.83L352.93,57.30L353.43,57.78L353.92,58.25L354.42,58.72L354.92,59.20L355.42,59.68L355.91,60.17L356.41,60.65L356.91,61.14L357.40,61.64L357.90,62.13L358.40,62.64L358.90,63.14L359.39,63.65L359.89,64.17L360.39,64.69L360.88,65.22L361.38,65.75L361.88,66.29L362.38,66.84L362.87,67.39L363.37,67.95L363.87,68.52L364.36,69.09L364.86,69.68L365.36,70.27L365.85,70.87L366.35,71.47L366.85,72.09L367.35,72.72L367.84,73.35L368.34,74.00L368.84,74.65L369.33,75.32L369.83,75.99L370.33,76.70L370.83,77.43L371.32,78.19L371.82,78.98L372.32,79.78L372.81,80.61L373.31,81.46L373.81,82.32L374.31,83.20L374.80,84.09L375.30,84.99L375.80,85.90L376.29,86.82L376.79,87.75L377.29,88.68L377.79,89.61L378.28,90.54L378.78,91.48L379.28,92.41L379.77,93.33L380.27,94.25L380.77,95.15L381.27,96.05L381.76,96.94L382.26,97.81L382.76,98.67L383.25,99.52L383.75,100.37L384.25,101.21L384.75,102.04L385.24,102.87L385.74,103.70L386.24,104.53L386.73,105.35L387.23,106.18L387.73,107.01L388.23,107.85L388.72,108.68L389.22,109.53L389.72,110.38L390.21,111.24L390.71,112.11L391.21,112.99L391.71,113.88L392.20,114.79L392.70,115.71L393.20,116.64L393.69,117.59L394.19,118.56L394.69,119.55L395.19,120.56L395.68,121.59L396.18,122.64L396.68,123.71L397.17,124.80L397.67,125.91L398.17,127.04L398.66,128.20L399.16,129.38L399.66,130.58L400.16,131.81L400.65,133.07L401.15,134.35L401.65,135.67L402.14,137.02L402.64,138.41L403.14,139.83L403.64,141.29L404.13,142.77L404.63,144.28L405.13,145.81L405.62,147.37L406.12,148.95L406.62,150.55L407.12,152.18L407.61,153.84L408.11,155.58L408.61,157.36L409.10,159.19L409.60,161.06L410.10,162.94L410.60,164.84L411.09,166.73L411.59,168.62L412.09,170.49L412.58,172.32L413.08,174.12L413.58,175.86L414.08,177.59L414.57,179.31L415.07,181.02L415.57,182.73L416.06,184.42L416.56,186.09L417.06,187.74L417.56,189.38L418.05,190.99L418.55,192.58L419.05,194.14L419.54,195.67L420.04,197.17L420.54,198.65L421.04,200.10L421.53,201.53L422.03,202.95L422.53,204.34L423.02,205.72L423.52,207.08L424.02,208.44L424.52,209.78L425.01,211.11L425.51,212.43L426.01,213.75L426.50,215.07L427.00,216.38L427.50,217.69L428.00,218.99L428.49,220.28L428.99,221.56L429.49,222.82L429.98,224.06L430.48,225.29L430.98,226.48L431.47,227.66L431.97,228.80L432.47,229.92L432.97,231.06L433.46,232.19L433.96,233.33L434.46,234.45L434.95,235.55L435.45,236.62L435.95,237.65L436.45,238.63L436.94,239.56L437.44,240.43L437.94,241.22L438.43,241.93L438.93,242.59L439.43,243.23L439.93,243.85L440.42,244.44L440.92,245.00L441.42,245.54L441.91,246.05L442.41,246.52L442.91,246.97L443.41,247.37L443.90,247.75L444.40,248.08L444.90,248.38L445.39,248.67L445.89,248.94L446.39,249.20L446.89,249.45L447.38,249.68L447.88,249.90L448.38,250.10L448.87,250.29L449.37,250.46L449.87,250.61L450.37,250.74L450.86,250.86L451.36,250.97L451.86,251.07L452.35,251.17L452.85,251.27L453.35,251.36L453.85,251.44L454.34,251.52L454.84,251.59L455.34,251.65L455.83,251.69L456.33,251.73L456.83,251.75L457.33,251.75L457.82,251.75L458.32,251.75L458.82,251.75L459.31,251.75L459.81,251.75L460.31,251.75L460.81,251.75L461.30,251.75L461.80,251.75L462.30,251.75L462.79,251.75L463.29,251.75L463.79,251.75L464.28,251.75L464.78,251.75L465.28,251.75L465.78,251.75L466.27,251.75L466.77,251.75L467.27,251.75L467.76,251.75L468.26,251.75L468.76,251.75L469.26,251.75L469.75,251.75L470.25,251.75L470.75,251.75L471.24,251.75L471.74,251.75L472.24,251.75L472.74,251.75L473.23,251.75L473.73,251.75L474.23,251.75L474.72,251.75L475.22,251.75L475.72,251.75L476.22,251.75L476.71,251.75L477.21,251.75L477.71,251.75L478.20,251.75L478.70,251.75L479.20,251.75L479.70,251.75L480.19,251.75L480.69,251.75L481.19,251.75L481.68,251.75L482.18,251.75L482.68,251.75L483.18,251.75L483.67,251.75L484.17,251.75L484.67,251.75L485.16,251.75L485.66,251.75L486.16,251.75L486.66,251.75L487.15,251.75L487.65,251.75L488.15,251.75L488.64,251.75L489.14,251.75L489.64,251.75L490.14,251.75L490.63,251.75L491.13,251.75L491.63,251.75L492.12,251.75L492.62,251.75L493.12,251.75L493.62,251.75L494.11,251.75L494.61,251.75L495.11,251.75L495.60,251.75L496.10,251.75L496.60,251.75L497.09,251.75L497.59,251.75L498.09,251.75L498.59,251.75L499.08,251.75L499.58,251.75L500.08,251.75L500.57,251.75L501.07,251.75L501.57,251.75L502.07,251.75L502.56,251.75L503.06,251.75L503.56,251.75L504.05,251.75L504.55,251.75L505.05,251.75L505.55,251.75L506.04,251.75L506.54,251.75L507.04,251.75L507.53,251.75L508.03,251.75L508.53,251.75L509.03,251.75L509.52,251.75L510.02,251.75L510.52,251.75L511.01,251.75L511.51,251.75L512.01,251.75L512.51,251.75L513.00,251.75L513.50,251.75" fill="none" stroke="#555" stroke-width="1.0" stroke-dasharray="9,2.5"/>
<path d="M369.59,33.00L369.95,33.00L370.31,33.00L370.67,33.00L371.03,33.00L371.39,33.00L371.75,33.00L372.11,33.00L372.47,33.00L372.83,33.00L373.19,33.04L373.55,33.11L373.91,33.22L374.27,33.36L374.64,33.54L375.00,33.73L375.36,33.96L375.72,34.20L376.08,34.45L376.44,34.72L376.80,35.00L377.16,35.29L377.52,35.58L377.88,35.87L378.24,36.16L378.60,36.44L378.96,36.71L379.32,36.99L379.68,37.28L380.05,37.59L380.41,37.91L380.77,38.25L381.13,38.59L381.49,38.95L381.85,39.31L382.21,39.67L382.57,40.04L382.93,40.41L383.29,40.78L383.65,41.16L384.01,41.54L384.37,41.92L384.73,42.31L385.10,42.70L385.46,43.09L385.82,43.49L386.18,43.89L386.54,44.29L386.90,44.70L387.26,45.12L387.62,45.54L387.98,45.96L388.34,46.39L388.70,46.82L389.06,47.27L389.42,47.71L389.78,48.16L390.14,48.62L390.51,49.09L390.87,49.56L391.23,50.04L391.59,50.52L391.95,51.01L392.31,51.51L392.67,52.02L393.03,52.53L393.39,53.05L393.75,53.58L394.11,54.11L394.47,54.66L394.83,55.21L395.19,55.77L395.56,56.33L395.92,56.89L396.28,57.46L396.64,58.03L397.00,58.61L397.36,59.19L397.72,59.79L398.08,60.39L398.44,61.00L398.80,61.62L399.16,62.26L399.52,62.90L399.88,63.56L400.24,64.23L400.60,64.91L400.97,65.61L401.33,66.32L401.69,67.05L402.05,67.79L402.41,68.55L402.77,69.33L403.13,70.13L403.49,70.95L403.85,71.79L404.21,72.65L404.57,73.53L404.93,74.44L405.29,75.36L405.65,76.32L406.02,77.29L406.38,78.29L406.74,79.32L407.10,80.38L407.46,81.50L407.82,82.75L408.18,84.10L408.54,85.56L408.90,87.11L409.26,88.73L409.62,90.43L409.98,92.18L410.34,93.98L410.70,95.81L411.06,97.68L411.43,99.55L411.79,101.44L412.15,103.31L412.51,105.17L412.87,107.00L413.23,108.80L413.59,110.55L413.95,112.32L414.31,114.10L414.67,115.89L415.03,117.69L415.39,119.50L415.75,121.32L416.11,123.15L416.48,124.98L416.84,126.83L417.20,128.67L417.56,130.53L417.92,132.38L418.28,134.24L418.64,136.10L419.00,137.96L419.36,139.83L419.72,141.69L420.08,143.56L420.44,145.44L420.80,147.33L421.16,149.23L421.52,151.14L421.89,153.05L422.25,154.97L422.61,156.88L422.97,158.80L423.33,160.71L423.69,162.62L424.05,164.52L424.41,166.41L424.77,168.29L425.13,170.16L425.49,172.02L425.85,173.86L426.21,175.69L426.57,177.55L426.94,179.42L427.30,181.29L427.66,183.18L428.02,185.06L428.38,186.93L428.74,188.79L429.10,190.63L429.46,192.45L429.82,194.23L430.18,195.99L430.54,197.70L430.90,199.36L431.26,200.98L431.62,202.53L431.98,204.03L432.35,205.46L432.71,206.87L433.07,208.25L433.43,209.60L433.79,210.94L434.15,212.25L434.51,213.53L434.87,214.78L435.23,216.01L435.59,217.21L435.95,218.38L436.31,219.51L436.67,220.62L437.03,221.70L437.39,222.74L437.76,223.75L438.12,224.72L438.48,225.66L438.84,226.58L439.20,227.48L439.56,228.36L439.92,229.22L440.28,230.07L440.64,230.89L441.00,231.70L441.36,232.48L441.72,233.24L442.08,233.99L442.44,234.71L442.81,235.40L443.17,236.08L443.53,236.73L443.89,237.35L444.25,237.95L444.61,238.53L444.97,239.08L445.33,239.63L445.69,240.16L446.05,240.68L446.41,241.20L446.77,241.69L447.13,242.18L447.49,242.65L447.85,243.10L448.22,243.54L448.58,243.97L448.94,244.38L449.30,244.76L449.66,245.13L450.02,245.49L450.38,245.82L450.74,246.13L451.10,246.42L451.46,246.70L451.82,246.97L452.18,247.23L452.54,247.49L452.90,247.74L453.27,247.98L453.63,248.21L453.99,248.43L454.35,248.64L454.71,248.84L455.07,249.04L455.43,249.22L455.79,249.40L456.15,249.57L456.51,249.73L456.87,249.88L457.23,250.02L457.59,250.16L457.95,250.30L458.31,250.44L458.68,250.58L459.04,250.72L459.40,250.85L459.76,250.98L460.12,251.11L460.48,251.23L460.84,251.33L461.20,251.43L461.56,251.52L461.92,251.60L462.28,251.66L462.64,251.71L463.00,251.74L463.36,251.75L463.73,251.75L464.09,251.75L464.45,251.75L464.81,251.75L465.17,251.75L465.53,251.75L465.89,251.75L466.25,251.75L466.61,251.75L466.97,251.75L467.33,251.75L467.69,251.75L468.05,251.75L468.41,251.75L468.77,251.75L469.14,251.75L469.50,251.75L469.86,251.75L470.22,251.75L470.58,251.75L470.94,251.75L471.30,251.75L471.66,251.75L472.02,251.75L472.38,251.75L472.74,251.75L473.10,251.75L473.46,251.75L473.82,251.75L474.19,251.75L474.55,251.75L474.91,251.75L475.27,251.75L475.63,251.75L475.99,251.75L476.35,251.75L476.71,251.75L477.07,251.75L477.43,251.75L477.79,251.75L478.15,251.75L478.51,251.75L478.87,251.75L479.23,251.75L479.60,251.75L479.96,251.75L480.32,251.75L480.68,251.75L481.04,251.75L481.40,251.75L481.76,251.75L482.12,251.75L482.48,251.75L482.84,251.75L483.20,251.75L483.56,251.75L483.92,251.75L484.28,251.75L484.65,251.75L485.01,251.75L485.37,251.75L485.73,251.75L486.09,251.75L486.45,251.75L486.81,251.75L487.17,251.75L487.53,251.75L487.89,251.75L488.25,251.75L488.61,251.75L488.97,251.75L489.33,251.75L489.69,251.75L490.06,251.75L490.42,251.75L490.78,251.75L491.14,251.75L491.50,251.75L491.86,251.75L492.22,251.75L492.58,251.75L492.94,251.75L493.30,251.75L493.66,251.75L494.02,251.75L494.38,251.75L494.74,251.75L495.10,251.75L495.47,251.75L495.83,251.75L496.19,251.75L496.55,251.75L496.91,251.75L497.27,251.75L497.63,251.75L497.99,251.75L498.35,251.75L498.71,251.75L499.07,251.75L499.43,251.75L499.79,251.75L500.15,251.75L500.52,251.75L500.88,251.75L501.24,251.75L501.60,251.75L501.96,251.75L502.32,251.75L502.68,251.75L503.04,251.75L503.40,251.75L503.76,251.75L504.12,251.75L504.48,251.75L504.84,251.75L505.20,251.75L505.56,251.75L505.93,251.75L506.29,251.75L506.65,251.75L507.01,251.75L507.37,251.75L507.73,251.75L508.09,251.75L508.45,251.75L508.81,251.75L509.17,251.75L509.53,251.75L509.89,251.75L510.25,251.75L510.61,251.75L510.98,251.75L511.34,251.75L511.70,251.75L512.06,251.75L512.42,251.75L512.78,251.75L513.14,251.75L513.50,251.75" fill="none" stroke="#555" stroke-width="1.0" stroke-dasharray="7.5,2.8,0.8,2.8"/>
<path d="M404.00,33.00L404.27,33.00L404.55,33.00L404.82,33.00L405.10,33.00L405.37,33.00L405.65,33.00L405.92,33.00L406.20,33.00L406.47,33.00L406.74,33.00L407.02,33.00L407.29,33.00L407.57,33.00L407.84,33.00L408.12,33.00L408.39,33.00L408.67,33.00L408.94,33.00L409.21,33.01L409.49,33.06L409.76,33.14L410.04,33.25L410.31,33.39L410.59,33.56L410.86,33.76L411.14,33.97L411.41,34.21L411.68,34.46L411.96,34.73L412.23,35.01L412.51,35.30L412.78,35.60L413.06,35.90L413.33,36.20L413.61,36.50L413.88,36.80L414.15,37.10L414.43,37.38L414.70,37.66L414.98,37.94L415.25,38.24L415.53,38.55L415.80,38.87L416.08,39.20L416.35,39.54L416.62,39.89L416.90,40.24L417.17,40.60L417.45,40.97L417.72,41.34L418.00,41.71L418.27,42.08L418.55,42.46L418.82,42.83L419.09,43.20L419.37,43.57L419.64,43.94L419.92,44.30L420.19,44.67L420.47,45.03L420.74,45.39L421.02,45.76L421.29,46.13L421.56,46.49L421.84,46.86L422.11,47.24L422.39,47.61L422.66,47.98L422.94,48.36L423.21,48.74L423.48,49.13L423.76,49.52L424.03,49.91L424.31,50.30L424.58,50.70L424.86,51.11L425.13,51.52L425.41,51.93L425.68,52.35L425.95,52.77L426.23,53.20L426.50,53.63L426.78,54.05L427.05,54.48L427.33,54.92L427.60,55.35L427.88,55.79L428.15,56.23L428.42,56.68L428.70,57.14L428.97,57.60L429.25,58.06L429.52,58.54L429.80,59.02L430.07,59.52L430.35,60.02L430.62,60.53L430.89,61.05L431.17,61.59L431.44,62.14L431.72,62.70L431.99,63.27L432.27,63.86L432.54,64.48L432.82,65.11L433.09,65.77L433.36,66.45L433.64,67.15L433.91,67.87L434.19,68.60L434.46,69.35L434.74,70.11L435.01,70.89L435.29,71.68L435.56,72.48L435.83,73.29L436.11,74.11L436.38,74.94L436.66,75.77L436.93,76.60L437.21,77.44L437.48,78.28L437.76,79.12L438.03,79.96L438.30,80.79L438.58,81.63L438.85,82.47L439.13,83.32L439.40,84.18L439.68,85.05L439.95,85.93L440.23,86.82L440.50,87.71L440.77,88.61L441.05,89.52L441.32,90.43L441.60,91.35L441.87,92.27L442.15,93.20L442.42,94.13L442.70,95.07L442.97,96.01L443.24,96.95L443.52,97.90L443.79,98.85L444.07,99.80L444.34,100.76L444.62,101.71L444.89,102.67L445.17,103.64L445.44,104.62L445.71,105.60L445.99,106.59L446.26,107.59L446.54,108.59L446.81,109.59L447.09,110.60L447.36,111.62L447.64,112.64L447.91,113.66L448.18,114.68L448.46,115.70L448.73,116.72L449.01,117.75L449.28,118.77L449.56,119.79L449.83,120.82L450.11,121.84L450.38,122.85L450.65,123.87L450.93,124.88L451.20,125.88L451.48,126.89L451.75,127.91L452.03,128.92L452.30,129.93L452.58,130.95L452.85,131.96L453.12,132.98L453.40,133.99L453.67,135.01L453.95,136.02L454.22,137.04L454.50,138.05L454.77,139.06L455.05,140.07L455.32,141.08L455.59,142.08L455.87,143.08L456.14,144.08L456.42,145.08L456.69,146.07L456.97,147.06L457.24,148.04L457.52,149.02L457.79,150.01L458.06,150.99L458.34,151.97L458.61,152.95L458.89,153.93L459.16,154.91L459.44,155.89L459.71,156.86L459.98,157.83L460.26,158.80L460.53,159.76L460.81,160.73L461.08,161.68L461.36,162.64L461.63,163.59L461.91,164.53L462.18,165.47L462.45,166.40L462.73,167.33L463.00,168.26L463.28,169.17L463.55,170.08L463.83,170.98L464.10,171.88L464.38,172.77L464.65,173.66L464.92,174.54L465.20,175.41L465.47,176.29L465.75,177.15L466.02,178.02L466.30,178.88L466.57,179.73L466.85,180.59L467.12,181.44L467.39,182.29L467.67,183.14L467.94,183.99L468.22,184.83L468.49,185.68L468.77,186.53L469.04,187.37L469.32,188.22L469.59,189.07L469.86,189.91L470.14,190.76L470.41,191.60L470.69,192.43L470.96,193.27L471.24,194.10L471.51,194.93L471.79,195.75L472.06,196.58L472.33,197.40L472.61,198.23L472.88,199.05L473.16,199.88L473.43,200.70L473.71,201.53L473.98,202.36L474.26,203.19L474.53,204.03L474.80,204.87L475.08,205.71L475.35,206.56L475.63,207.41L475.90,208.27L476.18,209.13L476.45,210.03L476.73,210.94L477.00,211.86L477.27,212.80L477.55,213.75L477.82,214.70L478.10,215.65L478.37,216.59L478.65,217.53L478.92,218.46L479.20,219.37L479.47,220.27L479.74,221.14L480.02,221.98L480.29,222.79L480.57,223.57L480.84,224.31L481.12,225.02L481.39,225.70L481.67,226.37L481.94,227.03L482.21,227.68L482.49,228.31L482.76,228.93L483.04,229.53L483.31,230.13L483.59,230.71L483.86,231.28L484.14,231.84L484.41,232.39L484.68,232.93L484.96,233.46L485.23,233.98L485.51,234.49L485.78,235.00L486.06,235.49L486.33,235.98L486.61,236.46L486.88,236.93L487.15,237.40L487.43,237.87L487.70,238.33L487.98,238.78L488.25,239.23L488.53,239.67L488.80,240.11L489.08,240.53L489.35,240.94L489.62,241.35L489.90,241.74L490.17,242.12L490.45,242.49L490.72,242.84L491.00,243.18L491.27,243.51L491.55,243.82L491.82,244.11L492.09,244.40L492.37,244.69L492.64,244.98L492.92,245.26L493.19,245.53L493.47,245.80L493.74,246.06L494.02,246.32L494.29,246.57L494.56,246.82L494.84,247.06L495.11,247.29L495.39,247.51L495.66,247.72L495.94,247.93L496.21,248.13L496.48,248.32L496.76,248.50L497.03,248.67L497.31,248.83L497.58,248.98L497.86,249.12L498.13,249.26L498.41,249.39L498.68,249.53L498.95,249.66L499.23,249.79L499.50,249.91L499.78,250.04L500.05,250.16L500.33,250.27L500.60,250.39L500.88,250.49L501.15,250.60L501.42,250.70L501.70,250.79L501.97,250.88L502.25,250.96L502.52,251.03L502.80,251.10L503.07,251.16L503.35,251.21L503.62,251.26L503.89,251.29L504.17,251.32L504.44,251.34L504.72,251.36L504.99,251.39L505.27,251.41L505.54,251.43L505.82,251.45L506.09,251.47L506.36,251.49L506.64,251.51L506.91,251.53L507.19,251.54L507.46,251.56L507.74,251.58L508.01,251.59L508.29,251.61L508.56,251.62L508.83,251.63L509.11,251.65L509.38,251.66L509.66,251.67L509.93,251.68L510.21,251.69L510.48,251.70L510.76,251.71L511.03,251.72L511.30,251.72L511.58,251.73L511.85,251.73L512.13,251.74L512.40,251.74L512.68,251.75L512.95,251.75L513.23,251.75L513.50,251.75" fill="none" stroke="#444" stroke-width="1.0" stroke-dasharray="7,2.5"/>
<path d="M416.51,33.00L416.76,33.00L417.00,33.00L417.24,33.00L417.49,33.00L417.73,33.00L417.97,33.00L418.22,33.00L418.46,33.00L418.70,33.00L418.95,33.00L419.19,33.01L419.43,33.03L419.67,33.08L419.92,33.15L420.16,33.24L420.40,33.34L420.65,33.46L420.89,33.58L421.13,33.72L421.38,33.86L421.62,34.01L421.86,34.17L422.10,34.33L422.35,34.48L422.59,34.64L422.83,34.79L423.08,34.95L423.32,35.12L423.56,35.30L423.81,35.48L424.05,35.68L424.29,35.89L424.54,36.10L424.78,36.33L425.02,36.56L425.26,36.80L425.51,37.04L425.75,37.29L425.99,37.55L426.24,37.81L426.48,38.08L426.72,38.35L426.97,38.62L427.21,38.90L427.45,39.18L427.70,39.47L427.94,39.77L428.18,40.08L428.42,40.40L428.67,40.73L428.91,41.06L429.15,41.41L429.40,41.76L429.64,42.12L429.88,42.49L430.13,42.87L430.37,43.26L430.61,43.66L430.86,44.06L431.10,44.48L431.34,44.90L431.58,45.33L431.83,45.76L432.07,46.21L432.31,46.68L432.56,47.18L432.80,47.69L433.04,48.23L433.29,48.78L433.53,49.34L433.77,49.91L434.02,50.50L434.26,51.09L434.50,51.68L434.74,52.28L434.99,52.88L435.23,53.47L435.47,54.06L435.72,54.64L435.96,55.22L436.20,55.78L436.45,56.33L436.69,56.86L436.93,57.39L437.18,57.92L437.42,58.43L437.66,58.95L437.90,59.47L438.15,59.99L438.39,60.51L438.63,61.05L438.88,61.59L439.12,62.14L439.36,62.71L439.61,63.29L439.85,63.89L440.09,64.51L440.34,65.15L440.58,65.81L440.82,66.48L441.06,67.17L441.31,67.87L441.55,68.58L441.79,69.31L442.04,70.04L442.28,70.79L442.52,71.54L442.77,72.30L443.01,73.06L443.25,73.83L443.50,74.60L443.74,75.38L443.98,76.17L444.22,76.96L444.47,77.77L444.71,78.58L444.95,79.40L445.20,80.23L445.44,81.07L445.68,81.91L445.93,82.76L446.17,83.62L446.41,84.48L446.66,85.35L446.90,86.22L447.14,87.10L447.38,87.99L447.63,88.88L447.87,89.77L448.11,90.67L448.36,91.57L448.60,92.48L448.84,93.40L449.09,94.34L449.33,95.28L449.57,96.24L449.82,97.20L450.06,98.18L450.30,99.16L450.54,100.14L450.79,101.12L451.03,102.11L451.27,103.09L451.52,104.07L451.76,105.05L452.00,106.02L452.25,106.98L452.49,107.94L452.73,108.90L452.98,109.87L453.22,110.83L453.46,111.79L453.70,112.75L453.95,113.72L454.19,114.68L454.43,115.64L454.68,116.60L454.92,117.56L455.16,118.52L455.41,119.47L455.65,120.43L455.89,121.38L456.14,122.33L456.38,123.28L456.62,124.22L456.86,125.16L457.11,126.10L457.35,127.04L457.59,127.98L457.84,128.91L458.08,129.85L458.32,130.78L458.57,131.72L458.81,132.65L459.05,133.58L459.29,134.51L459.54,135.44L459.78,136.36L460.02,137.28L460.27,138.20L460.51,139.12L460.75,140.03L461.00,140.94L461.24,141.85L461.48,142.76L461.73,143.66L461.97,144.55L462.21,145.45L462.45,146.33L462.70,147.22L462.94,148.10L463.18,148.98L463.43,149.86L463.67,150.74L463.91,151.61L464.16,152.49L464.40,153.36L464.64,154.23L464.89,155.09L465.13,155.95L465.37,156.81L465.61,157.66L465.86,158.51L466.10,159.35L466.34,160.19L466.59,161.02L466.83,161.84L467.07,162.66L467.32,163.47L467.56,164.28L467.80,165.07L468.05,165.86L468.29,166.64L468.53,167.41L468.77,168.17L469.02,168.92L469.26,169.66L469.50,170.40L469.75,171.12L469.99,171.84L470.23,172.55L470.48,173.26L470.72,173.96L470.96,174.67L471.21,175.36L471.45,176.06L471.69,176.75L471.93,177.43L472.18,178.12L472.42,178.79L472.66,179.47L472.91,180.14L473.15,180.80L473.39,181.46L473.64,182.12L473.88,182.77L474.12,183.42L474.37,184.06L474.61,184.70L474.85,185.33L475.09,185.96L475.34,186.58L475.58,187.20L475.82,187.81L476.07,188.42L476.31,189.03L476.55,189.63L476.80,190.24L477.04,190.83L477.28,191.42L477.53,192.01L477.77,192.60L478.01,193.18L478.25,193.75L478.50,194.32L478.74,194.89L478.98,195.45L479.23,196.01L479.47,196.56L479.71,197.11L479.96,197.65L480.20,198.19L480.44,198.72L480.69,199.24L480.93,199.76L481.17,200.28L481.41,200.79L481.66,201.30L481.90,201.80L482.14,202.31L482.39,202.80L482.63,203.29L482.87,203.78L483.12,204.27L483.36,204.75L483.60,205.22L483.85,205.69L484.09,206.16L484.33,206.63L484.57,207.09L484.82,207.54L485.06,208.00L485.30,208.44L485.55,208.89L485.79,209.33L486.03,209.77L486.28,210.20L486.52,210.63L486.76,211.06L487.01,211.48L487.25,211.91L487.49,212.32L487.73,212.74L487.98,213.15L488.22,213.56L488.46,213.97L488.71,214.37L488.95,214.77L489.19,215.17L489.44,215.56L489.68,215.95L489.92,216.34L490.17,216.73L490.41,217.11L490.65,217.49L490.89,217.86L491.14,218.24L491.38,218.61L491.62,218.97L491.87,219.34L492.11,219.69L492.35,220.05L492.60,220.40L492.84,220.75L493.08,221.09L493.33,221.43L493.57,221.77L493.81,222.11L494.05,222.44L494.30,222.77L494.54,223.10L494.78,223.43L495.03,223.75L495.27,224.08L495.51,224.40L495.76,224.72L496.00,225.05L496.24,225.37L496.48,225.69L496.73,226.01L496.97,226.34L497.21,226.66L497.46,226.98L497.70,227.31L497.94,227.63L498.19,227.96L498.43,228.29L498.67,228.62L498.92,228.95L499.16,229.29L499.40,229.62L499.64,229.96L499.89,230.29L500.13,230.62L500.37,230.94L500.62,231.27L500.86,231.60L501.10,231.92L501.35,232.25L501.59,232.57L501.83,232.89L502.08,233.22L502.32,233.54L502.56,233.87L502.80,234.20L503.05,234.53L503.29,234.86L503.53,235.19L503.78,235.52L504.02,235.86L504.26,236.20L504.51,236.54L504.75,236.89L504.99,237.23L505.24,237.59L505.48,237.94L505.72,238.30L505.96,238.67L506.21,239.03L506.45,239.41L506.69,239.78L506.94,240.17L507.18,240.56L507.42,240.96L507.67,241.38L507.91,241.81L508.15,242.24L508.40,242.68L508.64,243.13L508.88,243.59L509.12,244.04L509.37,244.51L509.61,244.97L509.85,245.43L510.10,245.90L510.34,246.36L510.58,246.82L510.83,247.28L511.07,247.73L511.31,248.18L511.56,248.62L511.80,249.05L512.04,249.47L512.28,249.88L512.53,250.28L512.77,250.67L513.01,251.04L513.26,251.40L513.50,251.75" fill="none" stroke="#444" stroke-width="1.0"/>
<circle cx="307.01" cy="33.00" r="2.30" fill="none" stroke="#666" stroke-width="0.9"/>
<path d="M338.30,62.17L340.90,66.72L335.70,66.72Z" fill="#111"/>
<path d="M344.56,77.70L347.16,82.25L341.96,82.25Z" fill="#111"/>
<path d="M357.07,106.14L359.67,110.69L354.47,110.69Z" fill="#111"/>
<path d="M369.59,138.95L372.19,143.50L366.99,143.50Z" fill="#111"/>
<path d="M375.84,161.04L378.44,165.59L373.24,165.59Z" fill="#111"/>
<path d="M382.10,183.13L384.70,187.69L379.50,187.69Z" fill="#111"/>
<path d="M394.61,209.60L397.21,214.15L392.01,214.15Z" fill="#111"/>
<path d="M407.13,227.10L409.73,231.65L404.53,231.65Z" fill="#111"/>
<path d="M413.39,237.17L415.99,241.72L410.79,241.72Z" fill="#111"/>
<path d="M419.64,243.95L422.24,248.50L417.04,248.50Z" fill="#111"/>
<path d="M425.90,246.13L428.50,250.69L423.30,250.69Z" fill="#111"/>
<path d="M432.16,248.32L434.76,252.87L429.56,252.87Z" fill="#111"/>
<path d="M438.41,248.76L441.01,253.31L435.81,253.31Z" fill="#111"/>
<rect x="336.55" y="42.41" width="3.50" height="3.50" fill="#fff" stroke="#444" stroke-width="0.8"/>
<rect x="349.06" y="53.12" width="3.50" height="3.50" fill="#fff" stroke="#444" stroke-width="0.8"/>
<rect x="367.84" y="74.12" width="3.50" height="3.50" fill="#fff" stroke="#444" stroke-width="0.8"/>
<rect x="374.09" y="84.62" width="3.50" height="3.50" fill="#fff" stroke="#444" stroke-width="0.8"/>
<rect x="380.35" y="96.88" width="3.50" height="3.50" fill="#fff" stroke="#444" stroke-width="0.8"/>
<rect x="386.61" y="110.00" width="3.50" height="3.50" fill="#fff" stroke="#444" stroke-width="0.8"/>
<rect x="392.86" y="118.53" width="3.50" height="3.50" fill="#fff" stroke="#444" stroke-width="0.8"/>
<rect x="399.12" y="129.47" width="3.50" height="3.50" fill="#fff" stroke="#444" stroke-width="0.8"/>
<rect x="405.38" y="152.00" width="3.50" height="3.50" fill="#fff" stroke="#444" stroke-width="0.8"/>
<rect x="411.64" y="176.06" width="3.50" height="3.50" fill="#fff" stroke="#444" stroke-width="0.8"/>
<rect x="417.89" y="195.31" width="3.50" height="3.50" fill="#fff" stroke="#444" stroke-width="0.8"/>
<rect x="424.15" y="210.62" width="3.50" height="3.50" fill="#fff" stroke="#444" stroke-width="0.8"/>
<rect x="430.41" y="227.69" width="3.50" height="3.50" fill="#fff" stroke="#444" stroke-width="0.8"/>
<rect x="436.66" y="241.47" width="3.50" height="3.50" fill="#fff" stroke="#444" stroke-width="0.8"/>
<rect x="442.92" y="246.72" width="3.50" height="3.50" fill="#fff" stroke="#444" stroke-width="0.8"/>
<rect x="449.18" y="249.56" width="3.50" height="3.50" fill="#fff" stroke="#444" stroke-width="0.8"/>
<rect x="455.44" y="250.00" width="3.50" height="3.50" fill="#fff" stroke="#444" stroke-width="0.8"/>
<rect x="458.56" y="250.00" width="3.50" height="3.50" fill="#fff" stroke="#444" stroke-width="0.8"/>
<path d="M382.10,41.93L384.25,38.06L379.95,38.06Z" fill="#fff" stroke="#444" stroke-width="0.8"/>
<path d="M394.61,57.02L396.76,53.16L392.46,53.16Z" fill="#fff" stroke="#444" stroke-width="0.8"/>
<path d="M407.13,80.87L409.28,77.00L404.98,77.00Z" fill="#fff" stroke="#444" stroke-width="0.8"/>
<path d="M413.39,111.71L415.54,107.84L411.24,107.84Z" fill="#fff" stroke="#444" stroke-width="0.8"/>
<path d="M419.64,144.74L421.79,140.87L417.49,140.87Z" fill="#fff" stroke="#444" stroke-width="0.8"/>
<path d="M425.90,174.93L428.05,171.06L423.75,171.06Z" fill="#fff" stroke="#444" stroke-width="0.8"/>
<path d="M432.16,209.49L434.31,205.62L430.01,205.62Z" fill="#fff" stroke="#444" stroke-width="0.8"/>
<path d="M438.41,227.87L440.56,224.00L436.26,224.00Z" fill="#fff" stroke="#444" stroke-width="0.8"/>
<path d="M444.67,240.99L446.82,237.12L442.52,237.12Z" fill="#fff" stroke="#444" stroke-width="0.8"/>
<path d="M450.93,247.34L453.08,243.47L448.78,243.47Z" fill="#fff" stroke="#444" stroke-width="0.8"/>
<path d="M463.44,253.90L465.59,250.03L461.29,250.03Z" fill="#fff" stroke="#444" stroke-width="0.8"/>
<path d="M482.21,253.90L484.36,250.03L480.06,250.03Z" fill="#fff" stroke="#444" stroke-width="0.8"/>
<circle cx="419.64" cy="33.00" r="2.40" fill="#111"/>
<circle cx="425.90" cy="34.31" r="2.40" fill="#111"/>
<circle cx="432.16" cy="44.16" r="2.40" fill="#111"/>
<circle cx="438.41" cy="61.22" r="2.40" fill="#111"/>
<circle cx="444.67" cy="80.91" r="2.40" fill="#111"/>
<circle cx="450.93" cy="109.78" r="2.40" fill="#111"/>
<circle cx="457.19" cy="131.22" r="2.40" fill="#111"/>
<circle cx="463.44" cy="152.88" r="2.40" fill="#111"/>
<circle cx="469.70" cy="168.19" r="2.40" fill="#111"/>
<circle cx="475.96" cy="181.97" r="2.40" fill="#111"/>
<circle cx="482.21" cy="197.06" r="2.40" fill="#111"/>
<circle cx="488.47" cy="218.94" r="2.40" fill="#111"/>
<circle cx="494.73" cy="229.88" r="2.40" fill="#111"/>
<circle cx="500.99" cy="240.59" r="2.40" fill="#111"/>
<circle cx="507.24" cy="247.16" r="2.40" fill="#111"/>
<circle cx="513.50" cy="251.31" r="2.40" fill="#111"/>
<path d="M294.50,29.70L297.80,33.00L294.50,36.30L291.20,33.00Z" fill="#111"/>
<path d="M300.76,29.70L304.06,33.00L300.76,36.30L297.46,33.00Z" fill="#111"/>
<path d="M313.27,29.70L316.57,33.00L313.27,36.30L309.97,33.00Z" fill="#111"/>
<path d="M325.79,29.70L329.09,33.00L325.79,36.30L322.49,33.00Z" fill="#111"/>
<path d="M344.56,29.70L347.86,33.00L344.56,36.30L341.26,33.00Z" fill="#111"/>
<path d="M357.07,29.70L360.37,33.00L357.07,36.30L353.77,33.00Z" fill="#111"/>
<path d="M369.59,29.70L372.89,33.00L369.59,36.30L366.29,33.00Z" fill="#111"/>
<path d="M375.84,29.70L379.14,33.00L375.84,36.30L372.54,33.00Z" fill="#111"/>
<path d="M382.10,29.70L385.40,33.00L382.10,36.30L378.80,33.00Z" fill="#111"/>
<path d="M394.61,29.70L397.91,33.00L394.61,36.30L391.31,33.00Z" fill="#111"/>
<path d="M407.13,29.70L410.43,33.00L407.13,36.30L403.83,33.00Z" fill="#111"/>
<path d="M413.39,31.23L416.69,34.53L413.39,37.83L410.09,34.53Z" fill="#111"/>
<path d="M419.64,34.51L422.94,37.81L419.64,41.11L416.34,37.81Z" fill="#111"/>
<path d="M425.90,49.39L429.20,52.69L425.90,55.99L422.60,52.69Z" fill="#111"/>
<path d="M432.16,60.33L435.46,63.62L432.16,66.92L428.86,63.62Z" fill="#111"/>
<path d="M438.41,77.61L441.71,80.91L438.41,84.21L435.11,80.91Z" fill="#111"/>
<path d="M444.67,94.67L447.97,97.97L444.67,101.27L441.37,97.97Z" fill="#111"/>
<path d="M450.93,121.79L454.23,125.09L450.93,128.39L447.63,125.09Z" fill="#111"/>
<path d="M457.19,146.07L460.49,149.38L457.19,152.68L453.89,149.38Z" fill="#111"/>
<path d="M463.44,168.17L466.74,171.47L463.44,174.77L460.14,171.47Z" fill="#111"/>
<path d="M469.70,187.64L473.00,190.94L469.70,194.24L466.40,190.94Z" fill="#111"/>
<path d="M475.96,205.36L479.26,208.66L475.96,211.96L472.66,208.66Z" fill="#111"/>
<path d="M482.21,227.23L485.51,230.53L482.21,233.83L478.91,230.53Z" fill="#111"/>
<path d="M488.47,236.20L491.77,239.50L488.47,242.80L485.17,239.50Z" fill="#111"/>
<path d="M494.73,244.51L498.03,247.81L494.73,251.11L491.43,247.81Z" fill="#111"/>
<path d="M500.99,246.26L504.29,249.56L500.99,252.86L497.69,249.56Z" fill="#111"/>
<path d="M507.24,248.45L510.54,251.75L507.24,255.05L503.94,251.75Z" fill="#111"/>
<path d="M513.50,248.45L516.80,251.75L513.50,255.05L510.20,251.75Z" fill="#111"/>
</g>
<text x="32.4" y="256.25" font-size="10.2" text-anchor="end" font-weight="normal" >0</text>
<text x="32.0" y="211.6" font-size="10.2" text-anchor="end" font-weight="normal" >20</text>
<text x="32.0" y="167.85" font-size="10.2" text-anchor="end" font-weight="normal" >40</text>
<text x="32.0" y="124.1" font-size="10.2" text-anchor="end" font-weight="normal" >60</text>
<text x="32.0" y="80.35" font-size="10.2" text-anchor="end" font-weight="normal" >80</text>
<text x="32.0" y="36.6" font-size="10.2" text-anchor="end" font-weight="normal" >100</text>
<text x="37.150000000000006" y="263.6" font-size="10.2" text-anchor="middle" font-weight="normal" >0</text>
<text x="72.94166666666666" y="263.6" font-size="10.2" text-anchor="middle" font-weight="normal" >5</text>
<text x="109.43333333333334" y="263.6" font-size="10.2" text-anchor="middle" font-weight="normal" >10</text>
<text x="145.925" y="263.6" font-size="10.2" text-anchor="middle" font-weight="normal" >15</text>
<text x="182.41666666666669" y="263.6" font-size="10.2" text-anchor="middle" font-weight="normal" >20</text>
<text x="218.90833333333336" y="263.6" font-size="10.2" text-anchor="middle" font-weight="normal" >25</text>
<text x="255.39999999999998" y="263.6" font-size="10.2" text-anchor="middle" font-weight="normal" >30</text>
<text x="290.8" y="255.95" font-size="10.2" text-anchor="end" font-weight="normal" >0</text>
<text x="290.8" y="211.6" font-size="10.2" text-anchor="end" font-weight="normal" >20</text>
<text x="290.8" y="167.85" font-size="10.2" text-anchor="end" font-weight="normal" >40</text>
<text x="290.8" y="124.1" font-size="10.2" text-anchor="end" font-weight="normal" >60</text>
<text x="290.8" y="80.35" font-size="10.2" text-anchor="end" font-weight="normal" >80</text>
<text x="290.8" y="36.6" font-size="10.2" text-anchor="end" font-weight="normal" >100</text>
<text x="325.7857142857143" y="263.6" font-size="10.2" text-anchor="middle" font-weight="normal" >30</text>
<text x="388.3571428571429" y="263.6" font-size="10.2" text-anchor="middle" font-weight="normal" >40</text>
<text x="450.92857142857144" y="263.6" font-size="10.2" text-anchor="middle" font-weight="normal" >50</text>
<text x="513.5" y="263.6" font-size="10.2" text-anchor="middle" font-weight="normal" >60</text>
<text x="145.9" y="279.8" font-size="12.9" text-anchor="middle" font-weight="normal" style="stroke-width:0.1px">Time (min)</text>
<text x="403.6" y="279.8" font-size="12.9" text-anchor="middle" font-weight="normal" style="stroke-width:0.1px">Temperature (°C)</text>
<text x="0" y="0" font-size="12.9" text-anchor="middle" style="stroke-width:0.1px" transform="translate(11.0,144.5) rotate(-90)">Residual activity (%)</text>
<text x="13.9" y="19.2" font-size="26" text-anchor="start" font-weight="bold"  style="stroke-width:0.1px">A</text>
<text x="273.3" y="20.4" font-size="26" text-anchor="start" font-weight="bold"  style="stroke-width:0.1px">B</text>
</svg>
</body></html>
